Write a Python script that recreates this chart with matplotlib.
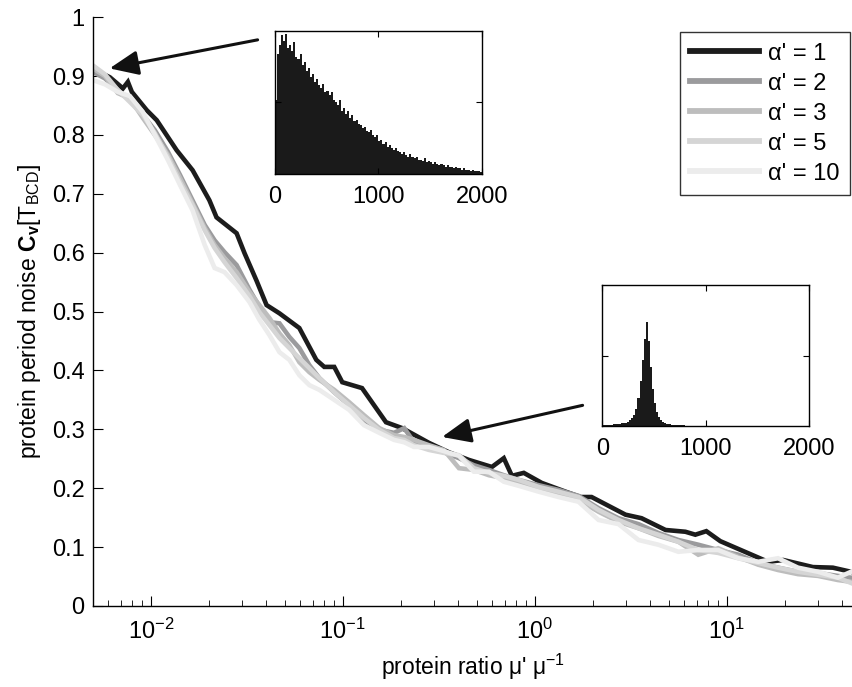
import matplotlib
matplotlib.use("Agg")
import matplotlib.pyplot as plt
from matplotlib.ticker import FuncFormatter, LogLocator, NullFormatter
import numpy as np

plt.rcParams['font.family'] = ['Liberation Sans', 'DejaVu Sans']
plt.rcParams['mathtext.fontset'] = 'custom'
plt.rcParams['mathtext.rm'] = 'Liberation Sans'
plt.rcParams['mathtext.it'] = 'Liberation Sans:italic'
plt.rcParams['mathtext.bf'] = 'Liberation Sans:bold'

# ---------------- data ----------------
x_a1 = [0.0050, 0.00543, 0.00612, 0.00665, 0.00716, 0.00760, 0.00797, 0.00953, 0.01074,
        0.01364, 0.01652, 0.0202, 0.0220, 0.0280, 0.0308, 0.0356, 0.0401, 0.0468, 0.0594,
        0.0728, 0.0801, 0.0903, 0.0994, 0.126, 0.168, 0.204, 0.281, 0.357, 0.454, 0.598,
        0.690, 0.760, 0.877, 1.087, 1.449, 1.733, 1.977, 2.97, 3.60, 4.80, 6.09, 6.86,
        7.83, 9.26, 16.4, 19.7, 28.1, 35.7, 44.4]
y_a1 = [0.913, 0.906, 0.898, 0.888, 0.879, 0.890, 0.873, 0.842, 0.825,
        0.774, 0.740, 0.689, 0.660, 0.633, 0.599, 0.552, 0.511, 0.497, 0.472,
        0.418, 0.406, 0.406, 0.380, 0.370, 0.312, 0.302, 0.277, 0.261, 0.248, 0.236,
        0.251, 0.221, 0.226, 0.209, 0.194, 0.185, 0.185, 0.155, 0.149, 0.129, 0.126, 0.121,
        0.127, 0.110, 0.075, 0.078, 0.066, 0.065, 0.058]

x_grid = [0.00500, 0.00577, 0.00674, 0.00778, 0.00909, 0.0105, 0.0123, 0.0142, 0.0165,
          0.0191, 0.0215, 0.0242, 0.0280, 0.0327, 0.0368, 0.0415, 0.0468, 0.0527, 0.0594,
          0.0670, 0.0755, 0.0903, 0.108, 0.129, 0.155, 0.185, 0.209, 0.235, 0.281, 0.336,
          0.403, 0.482, 0.577, 0.690, 0.826, 1.05, 1.33, 1.69, 2.15, 2.73, 3.47, 4.40,
          5.60, 7.11, 9.03, 11.5, 14.6, 18.5, 23.5, 29.9, 37.9, 44.4]
y_a2 = [0.907, 0.896, 0.876, 0.859, 0.834, 0.808, 0.771, 0.732, 0.689, 0.647, 0.621,
        0.601, 0.579, 0.537, 0.508, 0.482, 0.480, 0.457, 0.438, 0.409, 0.387, 0.363,
        0.341, 0.316, 0.299, 0.294, 0.302, 0.278, 0.268, 0.261, 0.251, 0.239, 0.231,
        0.222, 0.214, 0.205, 0.197, 0.187, 0.166, 0.149, 0.139, 0.124, 0.112, 0.104,
        0.095, 0.087, 0.073, 0.065, 0.058, 0.056, 0.051, 0.048]
y_a3 = [0.913, 0.900, 0.871, 0.862, 0.829, 0.800, 0.766, 0.727, 0.684, 0.642, 0.613,
        0.591, 0.567, 0.533, 0.511, 0.489, 0.463, 0.443, 0.414, 0.397, 0.384, 0.367,
        0.346, 0.324, 0.302, 0.290, 0.287, 0.282, 0.273, 0.265, 0.234, 0.231, 0.222,
        0.217, 0.211, 0.200, 0.190, 0.180, 0.160, 0.143, 0.132, 0.119, 0.109, 0.087,
        0.098, 0.083, 0.070, 0.061, 0.054, 0.051, 0.044, 0.041]
y_a5 = [0.918, 0.903, 0.876, 0.856, 0.834, 0.803, 0.762, 0.720, 0.681, 0.638, 0.608,
        0.584, 0.557, 0.526, 0.499, 0.477, 0.455, 0.438, 0.421, 0.404, 0.387, 0.363,
        0.341, 0.319, 0.299, 0.285, 0.282, 0.273, 0.265, 0.260, 0.256, 0.234, 0.226,
        0.221, 0.214, 0.202, 0.194, 0.185, 0.163, 0.146, 0.132, 0.121, 0.109, 0.095,
        0.090, 0.081, 0.073, 0.065, 0.058, 0.053, 0.048, 0.039]
y_a10 = [0.893, 0.886, 0.873, 0.866, 0.839, 0.800, 0.757, 0.715, 0.672, 0.613, 0.574,
         0.567, 0.545, 0.516, 0.486, 0.460, 0.431, 0.418, 0.392, 0.375, 0.367, 0.350,
         0.333, 0.307, 0.294, 0.282, 0.278, 0.270, 0.270, 0.263, 0.255, 0.228, 0.228,
         0.211, 0.204, 0.194, 0.185, 0.177, 0.146, 0.139, 0.112, 0.104, 0.092, 0.095,
         0.095, 0.081, 0.075, 0.081, 0.065, 0.058, 0.048, 0.058]

labels = ["α' = 1", "α' = 2", "α' = 3", "α' = 5", "α' = 10"]
colors = ['#1c1c1c', '#9b9b9d', '#bdbdbd', '#d5d5d5', '#ececec']

# inset histograms (bins of width 20 from 0 to 2000), normalised counts
hist_edges_step = 20
hist1 = [0.52, 0.84, 0.90, 0.97, 0.93, 0.98, 0.88, 0.90, 0.86, 0.92,
         0.82, 0.80, 0.84, 0.76, 0.78, 0.72, 0.74, 0.68, 0.70, 0.64,
         0.66, 0.62, 0.60, 0.63, 0.57, 0.58, 0.55, 0.57, 0.52, 0.50,
         0.48, 0.52, 0.44, 0.46, 0.42, 0.44, 0.39, 0.41, 0.37, 0.38,
         0.35, 0.34, 0.32, 0.33, 0.30, 0.29, 0.31, 0.27, 0.26, 0.27,
         0.23, 0.24, 0.21, 0.22, 0.19, 0.20, 0.18, 0.17, 0.18, 0.16,
         0.15, 0.14, 0.15, 0.13, 0.12, 0.14, 0.12, 0.11, 0.12, 0.10,
         0.10, 0.09, 0.11, 0.08, 0.09, 0.08, 0.07, 0.08, 0.07, 0.06,
         0.07, 0.06, 0.05, 0.06, 0.05, 0.05, 0.04, 0.05, 0.04, 0.04,
         0.03, 0.04, 0.03, 0.03, 0.02, 0.03, 0.02, 0.02, 0.02, 0.015]
hist2 = [0.006, 0.008, 0.007, 0.010, 0.009, 0.012, 0.011, 0.014, 0.015, 0.018,
         0.020, 0.024, 0.030, 0.040, 0.055, 0.080, 0.120, 0.200, 0.320, 0.470,
         0.620, 0.740, 0.600, 0.420, 0.260, 0.160, 0.100, 0.060, 0.040, 0.028,
         0.020, 0.016, 0.012, 0.010, 0.008, 0.007, 0.006, 0.005, 0.004, 0.004,
         0.003, 0.002, 0.002, 0.001, 0.001, 0.0, 0.0, 0.0, 0.0, 0.0,
         0.0, 0.0, 0.0, 0.0, 0.0, 0.0, 0.0, 0.0, 0.0, 0.0,
         0.0, 0.0, 0.0, 0.0, 0.0, 0.0, 0.0, 0.0, 0.0, 0.0,
         0.0, 0.0, 0.0, 0.0, 0.0, 0.0, 0.0, 0.0, 0.0, 0.0,
         0.0, 0.0, 0.0, 0.0, 0.0, 0.0, 0.0, 0.0, 0.0, 0.0,
         0.0, 0.0, 0.0, 0.0, 0.0, 0.0, 0.0, 0.0, 0.0, 0.0]

# ---------------- figure ----------------
FS = 17
fig = plt.figure(figsize=(8.53, 6.87), dpi=100)
ax = fig.add_axes([0.109, 0.118, 0.890, 0.857])

series_x = [x_a1, x_grid, x_grid, x_grid, x_grid]
series_y = [y_a1, y_a2, y_a3, y_a5, y_a10]
for xs, ys, c, lab in zip(series_x, series_y, colors, labels):
    ax.plot(xs, ys, color=c, lw=3.3, label=lab, solid_joinstyle='miter')

ax.set_xscale('log')
ax.set_xlim(0.005, 45)
ax.set_ylim(0, 1)
ax.spines['top'].set_visible(False)
ax.spines['right'].set_visible(False)
for s in ('left', 'bottom'):
    ax.spines[s].set_linewidth(1.0)
ax.set_yticks(np.arange(0, 1.01, 0.1))
ax.yaxis.set_major_formatter(FuncFormatter(lambda v, p: '0' if v == 0 else ('1' if abs(v - 1) < 1e-9 else f'{v:.1f}')))
ax.xaxis.set_major_locator(LogLocator(base=10, numticks=10))
ax.xaxis.set_minor_locator(LogLocator(base=10, subs=np.arange(2, 10), numticks=20))
ax.xaxis.set_minor_formatter(NullFormatter())
ax.xaxis.set_major_formatter(FuncFormatter(lambda v, p: r'$\mathregular{10^{%d}}$' % round(np.log10(v))))
ax.tick_params(axis='both', which='major', direction='in', length=7, labelsize=FS, pad=6)
ax.tick_params(axis='x', which='minor', direction='in', length=4)
ax.tick_params(axis='x', which='major', pad=9)

ax.set_xlabel(r"protein ratio μ' μ$^{\mathregular{-1}}$", fontsize=16.5, labelpad=6)
ax.set_ylabel(r"protein period noise $\mathbf{C_v}$[T$_{\mathregular{BCD}}$]", fontsize=16.5, labelpad=6)

leg = ax.legend(loc='upper right', bbox_to_anchor=(0.9975, 0.975), fontsize=FS, frameon=True,
                fancybox=False, edgecolor='black', handlelength=2.9, labelspacing=0.34,
                borderpad=0.45, handletextpad=0.4, borderaxespad=0)
leg.get_frame().set_linewidth(1.0)
for h in leg.get_lines():
    h.set_linewidth(4.2)

# arrows
arrow_props = dict(arrowstyle='-|>,head_length=0.8,head_width=0.34', color='#111111', lw=2.2,
                   shrinkA=0, shrinkB=0, mutation_scale=22)
ax.annotate('', xy=(0.0061, 0.913), xycoords='data', xytext=(0.302, 0.942),
            textcoords='figure fraction', arrowprops=arrow_props)
ax.annotate('', xy=(0.329, 0.287), xycoords='data', xytext=(0.683, 0.410),
            textcoords='figure fraction', arrowprops=arrow_props)

# insets
def draw_inset(rect, counts):
    ia = fig.add_axes(rect)
    edges = np.arange(0, 2000 + hist_edges_step, hist_edges_step)
    ia.bar(edges[:-1], counts, width=hist_edges_step, align='edge', color='#1a1a1a', edgecolor='none')
    ia.set_xlim(0, 2000)
    ia.set_ylim(0, 1.0)
    ia.set_xticks([0, 1000, 2000])
    ia.set_yticks([0.5])
    ia.set_yticklabels([])
    ia.tick_params(direction='in', length=4, labelsize=FS, top=True, right=True, pad=9)
    for s in ia.spines.values():
        s.set_linewidth(1.0)
    return ia

draw_inset([0.322, 0.747, 0.243, 0.208], hist1)
draw_inset([0.706, 0.380, 0.243, 0.205], hist2)

fig.savefig('out.png', dpi=100)
